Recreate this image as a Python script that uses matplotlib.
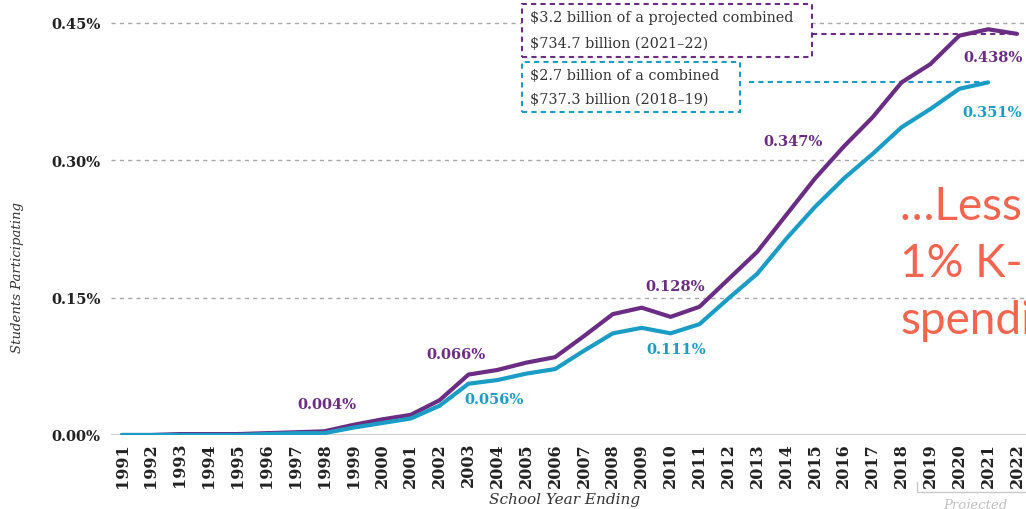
import matplotlib

matplotlib.use("Agg")
import matplotlib.pyplot as plt
from matplotlib.patches import Rectangle

# School year ending, share of K-12 students participating (percent)
years = list(range(1991, 2023))
projected_combined = [0.000, 0.000, 0.001, 0.001, 0.001, 0.002, 0.003, 0.004,
                      0.011, 0.017, 0.022, 0.038, 0.066, 0.071, 0.079, 0.085,
                      0.108, 0.132, 0.139, 0.129, 0.140, 0.170, 0.200, 0.240,
                      0.280, 0.315, 0.347, 0.385, 0.405, 0.436, 0.443, 0.438]
combined = [0.000, 0.000, 0.000, 0.000, 0.000, 0.001, 0.002, 0.002,
            0.008, 0.013, 0.018, 0.032, 0.056, 0.060, 0.067, 0.072,
            0.092, 0.111, 0.117, 0.111, 0.121, 0.149, 0.176, 0.214,
            0.249, 0.280, 0.307, 0.336, 0.356, 0.378, 0.385]
years_combined = years[:len(combined)]

purple_labels = [(1998, "0.004%"), (2003, "0.066%"), (2010, "0.128%"),
                 (2017, "0.347%"), (2022, "0.438%")]
blue_labels = [(2003, "0.056%"), (2010, "0.111%"), (2021, "0.351%")]

yticks = [0.0, 0.15, 0.30, 0.45]
ytick_labels = ["0.00%", "0.15%", "0.30%", "0.45%"]

PURPLE = "#6a2d83"
BLUE = "#1b9cc4"
RED = "#f4654f"
SERIF = "DejaVu Serif"

fig = plt.figure(figsize=(10.26, 5.10), dpi=100)
ax = fig.add_axes([0.1077, 0.1451, 0.8920, 0.853])

ax.plot(years, projected_combined, color=PURPLE, lw=3, solid_capstyle="round", zorder=4)
ax.plot(years_combined, combined, color=BLUE, lw=3, solid_capstyle="round", zorder=5)

ax.set_xlim(1990.6, 2022.3)
ax.set_ylim(0, 0.475)
for y in yticks[1:]:
    ax.axhline(y, color="#a8a8a8", lw=1, ls=(0, (3, 3)), zorder=1)
ax.axhline(0, color="#cfcfcf", lw=1.5, zorder=1)

for s in ax.spines.values():
    s.set_visible(False)
ax.set_yticks(yticks)
ax.set_yticklabels(ytick_labels, fontsize=10.5, fontweight="bold",
                   family=SERIF, color="#222222")
ax.set_xticks(years)
ax.set_xticklabels([str(y) for y in years], rotation=90, fontsize=11.5,
                   fontweight="bold", family=SERIF, color="#222222")
ax.tick_params(axis="y", length=0, pad=7)
ax.tick_params(axis="x", length=0, pad=5)

# data labels (offsets in data units from the labelled point)
purple_offsets = {1998: (0.1, 0.030), 2003: (-0.45, 0.0225), 2010: (0.15, 0.034),
                  2017: (-2.75, -0.026), 2022: (-0.83, -0.025)}
blue_offsets = {2003: (0.9, -0.017), 2010: (0.2, -0.017), 2021: (0.13, -0.032)}
for yr, txt in purple_labels:
    dx, dy = purple_offsets[yr]
    ax.text(yr + dx, projected_combined[years.index(yr)] + dy, txt, color=PURPLE,
            fontsize=10.5, fontweight="bold", family=SERIF, ha="center", va="center")
for yr, txt in blue_labels:
    dx, dy = blue_offsets[yr]
    ax.text(yr + dx, combined[years.index(yr)] + dy, txt, color=BLUE,
            fontsize=10.5, fontweight="bold", family=SERIF, ha="center", va="center")

# callout boxes with dashed connectors to the last point
box_x0 = 2004.86
ax.add_patch(Rectangle((box_x0, 0.413), 2014.9 - box_x0, 0.058, fill=True,
                       facecolor="white", edgecolor=PURPLE, lw=1.5,
                       ls=(0, (2.5, 2)), clip_on=False, zorder=3))
ax.add_patch(Rectangle((box_x0, 0.353), 2012.41 - box_x0, 0.0545, fill=True,
                       facecolor="white", edgecolor=BLUE, lw=1.5,
                       ls=(0, (2.5, 2)), clip_on=False, zorder=3))
ax.plot([2014.9, 2022], [projected_combined[-1]] * 2, color=PURPLE, lw=1.5,
        ls=(0, (2.5, 2)), zorder=3)
ax.plot([2012.7, 2021], [combined[-1]] * 2, color=BLUE, lw=1.5,
        ls=(0, (2.5, 2)), zorder=3)

box_text = dict(fontsize=10.4, family=SERIF, color="#333333", ha="left", va="center", zorder=6)
ax.text(2005.13, 0.4567, r"\$3.2 billion of a projected combined", **box_text)
ax.text(2005.13, 0.428, r"\$734.7 billion (2021–22)", **box_text)
ax.text(2005.13, 0.3935, r"\$2.7 billion of a combined", **box_text)
ax.text(2005.13, 0.3673, r"\$737.3 billion (2018–19)", **box_text)

# axis titles
fig.text(18 / 1026, 1 - 278 / 510, "Students Participating", rotation=90,
         family=SERIF, style="italic", fontsize=9.5, color="#333333",
         ha="center", va="center")
fig.text(565 / 1026, 1 - 500 / 510, "School Year Ending", family=SERIF,
         style="italic", fontsize=11, color="#333333", ha="center", va="center")

# projected bracket
fig.add_artist(plt.Line2D([917 / 1026, 917 / 1026, 1.0],
                          [1 - 483 / 510, 1 - 493 / 510, 1 - 493 / 510],
                          color="#c8c8c8", lw=1))
fig.text(975 / 1026, 1 - 506 / 510, "Projected", family=SERIF, style="italic",
         fontsize=9.5, color="#c0c0c0", ha="center", va="center")

# overlay callout text (runs off the right edge, as in the source slide)
for line, base in [("…Less than", 220), ("1% K-12", 277), ("spending", 334)]:
    fig.text(900 / 1026, 1 - base / 510, line, family="Lato", fontsize=33,
             color=RED, ha="left", va="baseline")

fig.savefig("out.png", dpi=100)
